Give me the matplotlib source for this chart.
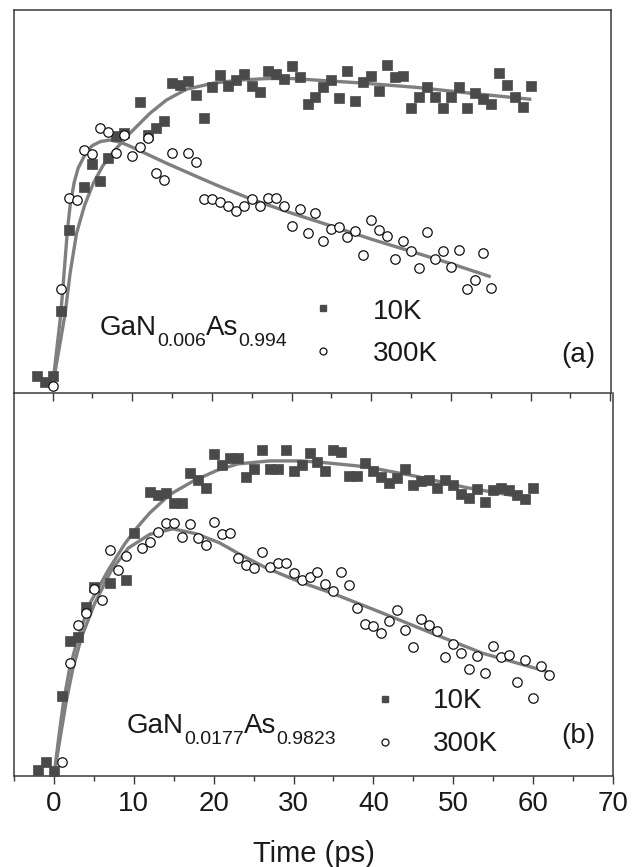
import matplotlib
matplotlib.use('Agg')
import matplotlib.pyplot as plt
from matplotlib.ticker import MultipleLocator
from matplotlib.transforms import offset_copy

plt.rcParams['font.family'] = ['Liberation Sans', 'DejaVu Sans']

# ---------------- data: panel (a) GaN0.006As0.994 ----------------
a10_t = [-2, -1, 0, 1, 2, 4, 5, 6, 7, 8, 9, 11, 12, 13, 14, 15, 16, 17, 18, 19,
         20, 21, 22, 23, 24, 25, 26, 27, 28, 29, 30, 31, 32, 33, 34, 35, 36, 37,
         38, 39, 40, 41, 42, 43, 44, 45, 46, 47, 48, 49, 50, 51, 52, 53, 54, 55,
         56, 57, 58, 59, 60]
a10_y = [0.033, 0.014, 0.033, 0.246, 0.51, 0.65, 0.725, 0.67, 0.744, 0.817, 0.828,
         0.927, 0.82, 0.842, 0.867, 0.989, 0.984, 0.998, 0.951, 0.875, 0.976,
         1.016, 0.981, 1.0, 1.02, 0.98, 0.962, 1.03, 1.02, 1.005, 1.046, 1.009,
         0.922, 0.945, 0.976, 1.0, 0.94, 1.03, 0.932, 0.994, 1.013, 0.965, 1.049,
         1.011, 1.013, 0.91, 0.945, 0.976, 0.943, 0.91, 0.943, 0.976, 0.91, 0.958,
         0.937, 0.922, 1.022, 0.984, 0.943, 0.913, 0.98]
a300_t = [0, 1, 2, 3, 4, 5, 6, 7, 8, 9, 10, 11, 12, 13, 14, 15, 17, 18, 19, 20,
          21, 22, 23, 24, 25, 26, 27, 28, 29, 30, 31, 32, 33, 34, 35, 36, 37, 38,
          39, 40, 41, 42, 43, 44, 45, 46, 47, 48, 49, 50, 51, 52, 53, 54, 55]
a300_y = [0.0, 0.316, 0.613, 0.608, 0.771, 0.758, 0.842, 0.831, 0.76, 0.82, 0.752,
          0.782, 0.809, 0.695, 0.673, 0.762, 0.76, 0.733, 0.61, 0.61, 0.602, 0.588,
          0.573, 0.588, 0.61, 0.588, 0.613, 0.616, 0.588, 0.523, 0.58, 0.501, 0.564,
          0.475, 0.512, 0.519, 0.486, 0.508, 0.428, 0.542, 0.51, 0.49, 0.414, 0.475,
          0.442, 0.385, 0.504, 0.414, 0.442, 0.39, 0.444, 0.316, 0.346, 0.434, 0.319]
# fit curves
a10_fit_t = [0, 0.8, 1.57, 2.2, 3.0, 4.0, 5.1, 6.3, 7.8, 9.7, 12.2, 14.3, 16.8,
             20.2, 23.5, 27, 30, 33, 39, 45.7, 52.8, 60.1]
a10_fit_y = [0.0, 0.12, 0.237, 0.37, 0.499, 0.59, 0.662, 0.72, 0.771, 0.826, 0.891,
             0.935, 0.97, 0.99, 1.0, 1.005, 1.005, 1.0, 0.99, 0.976, 0.956, 0.937]
a300_fit_t = [0, 0.5, 1.03, 1.5, 1.86, 2.2, 2.7, 3.2, 4.3, 5.0, 6.0, 7.2, 8.5, 9.7,
              12, 14.3, 18.5, 21, 25, 30, 35, 40, 45, 50, 55]
a300_fit_y = [0.0, 0.115, 0.237, 0.39, 0.51, 0.59, 0.665, 0.712, 0.768, 0.786,
              0.799, 0.804, 0.797, 0.784, 0.756, 0.728, 0.68, 0.652, 0.61, 0.565,
              0.523, 0.48, 0.44, 0.4, 0.357]

# ---------------- data: panel (b) GaN0.0177As0.9823 ----------------
b10_t = [-2, -1, 0, 1, 2, 3, 4, 5, 7, 9, 10, 12, 13, 14, 15, 16, 17, 18, 19, 20,
         21, 22, 23, 24, 25, 26, 27, 28, 29, 30, 31, 32, 33, 34, 35, 36, 37, 38,
         39, 40, 41, 42, 43, 44, 45, 46, 47, 48, 49, 50, 51, 52, 53, 54, 55, 56,
         57, 58, 59, 60]
b10_y = [0.02, 0.047, 0.017, 0.261, 0.442, 0.456, 0.553, 0.619, 0.63, 0.642, 0.795,
         0.929, 0.918, 0.926, 0.891, 0.891, 0.99, 0.967, 0.94, 1.051, 1.016, 1.041,
         1.041, 0.978, 1.002, 1.067, 1.002, 1.005, 1.065, 0.998, 1.016, 1.057,
         1.027, 0.998, 1.065, 1.06, 0.98, 0.98, 1.024, 0.998, 0.976, 0.959, 0.973,
         1.002, 0.951, 0.965, 0.969, 0.94, 0.967, 0.951, 0.922, 0.91, 0.937, 0.897,
         0.935, 0.94, 0.935, 0.918, 0.904, 0.94]
b300_t = [1, 2, 3, 4, 5, 6, 7, 8, 9, 11, 12, 13, 14, 15, 16, 17, 18, 19, 20, 21,
          22, 23, 24, 25, 26, 27, 28, 29, 30, 31, 32, 33, 34, 35, 36, 37, 38, 39,
          40, 41, 42, 43, 44, 45, 46, 47, 48, 49, 50, 51, 52, 53, 54, 55, 56, 57,
          58, 59, 60, 61, 62]
b300_y = [0.047, 0.37, 0.493, 0.532, 0.61, 0.575, 0.739, 0.673, 0.719, 0.744,
          0.766, 0.799, 0.828, 0.828, 0.782, 0.824, 0.777, 0.755, 0.831, 0.791,
          0.793, 0.712, 0.69, 0.679, 0.731, 0.684, 0.695, 0.695, 0.664, 0.641,
          0.651, 0.668, 0.629, 0.605, 0.668, 0.624, 0.548, 0.498, 0.49, 0.468,
          0.508, 0.542, 0.477, 0.423, 0.512, 0.493, 0.475, 0.39, 0.433, 0.401,
          0.349, 0.392, 0.336, 0.425, 0.388, 0.395, 0.308, 0.379, 0.256, 0.359, 0.33]
b10_fit_t = [0, 0.6, 1.17, 1.92, 3.04, 4.5, 6.8, 8.9, 10.5, 12, 14.5, 17.5, 20.5,
             23, 27, 31, 34, 39, 45.3, 51.6, 59.7]
b10_fit_y = [0.0, 0.125, 0.238, 0.346, 0.455, 0.564, 0.673, 0.76, 0.815, 0.86,
             0.92, 0.965, 1.0, 1.02, 1.03, 1.03, 1.024, 1.011, 0.98, 0.943, 0.907]
b300_fit_t = [0, 0.75, 1.5, 2.33, 3.46, 5.1, 7.2, 9.3, 12, 14.9, 17.8, 20.75,
              23.25, 26.6, 30.75, 34.9, 41.2, 47.4, 53.7, 61.8]
b300_fit_y = [0.0, 0.12, 0.238, 0.346, 0.455, 0.564, 0.673, 0.745, 0.79, 0.808,
              0.792, 0.762, 0.725, 0.68, 0.635, 0.597, 0.532, 0.466, 0.401, 0.341]

xticks = [0, 10, 20, 30, 40, 50, 60, 70]
series_labels = ['10K', '300K']
panel_labels = ['(a)', '(b)']
sample_a = [('GaN', False), ('0.006', True), ('As', False), ('0.994', True)]
sample_b = [('GaN', False), ('0.0177', True), ('As', False), ('0.9823', True)]

# ---------------- styling ----------------
SQ = '#4a4a4a'
LINE = '#7f7f7f'
SPINE = '#3a3a3a'
TXT = '#1a1a1a'

W, H = 639, 867
fig = plt.figure(figsize=(W / 100, H / 100), dpi=100)
axb = fig.add_axes([14 / W, 1 - 776 / H, 599 / W, 383 / H])
axa = fig.add_axes([14 / W, 1 - 393 / H, 597 / W, 383 / H])
axa.set_zorder(3)


def draw(ax, t10, y10, t300, y300, f10t, f10y, f300t, f300y):
    ax.plot(f10t, f10y, color=LINE, lw=2.4, zorder=2, solid_capstyle='butt')
    ax.plot(f300t, f300y, color=LINE, lw=2.4, zorder=2, solid_capstyle='butt')
    ax.plot(t10, y10, ls='none', marker='s', ms=6.6, mfc=SQ, mec=SQ, mew=0.5,
            zorder=3)
    ax.plot(t300, y300, ls='none', marker='o', ms=6.8, mfc='white', mec='#111111',
            mew=0.9, zorder=3)
    ax.set_yticks([])
    ax.xaxis.set_major_locator(MultipleLocator(10))
    ax.xaxis.set_minor_locator(MultipleLocator(5))
    ax.tick_params(axis='x', which='major', direction='out', length=5.5,
                   width=1.0, color=SPINE, labelsize=20, pad=5)
    ax.tick_params(axis='x', which='minor', direction='out', length=3.5,
                   width=1.0, color=SPINE)
    for s in ax.spines.values():
        s.set_color(SPINE)
        s.set_linewidth(1.1)


draw(axa, a10_t, a10_y, a300_t, a300_y, a10_fit_t, a10_fit_y, a300_fit_t, a300_fit_y)
draw(axb, b10_t, b10_y, b300_t, b300_y, b10_fit_t, b10_fit_y, b300_fit_t, b300_fit_y)

axa.set_xlim(-4.85, 70.1)
axa.set_ylim(-0.0229, 1.229)
axa.tick_params(axis='x', labelbottom=False)

axb.set_xlim(-5, 70)
axb.set_ylim(0, 1.252)
axb.spines['top'].set_visible(False)
axb.set_xticks(xticks)
axb.set_xticklabels([str(v) for v in xticks])
axb.set_xlabel('Time (ps)', fontsize=21, labelpad=17, color=TXT)
for lbl in axb.get_xticklabels():
    lbl.set_color(TXT)

renderer = fig.canvas.get_renderer()


def compound(ax, x, y, parts, drop):
    dx = 0.0
    for txt, sub in parts:
        size = 14 if sub else 20
        dy = -drop if sub else 0.0
        tr = offset_copy(ax.transAxes, fig=fig, x=dx, y=dy, units='points')
        t = ax.text(x, y, txt, transform=tr, fontsize=size, va='baseline',
                    ha='left', color=TXT)
        w = t.get_window_extent(renderer=renderer).width
        dx += w * 72.0 / fig.dpi


def legend_block(ax, mx, sq_y, ci_y, tx, t10_y, t300_y, plab, px, py):
    ax.plot([mx], [sq_y], transform=ax.transAxes, marker='s', ms=5.0,
            mfc=SQ, mec=SQ, ls='none', clip_on=False)
    ax.plot([mx], [ci_y], transform=ax.transAxes, marker='o', ms=5.0,
            mfc='white', mec='#111111', mew=0.9, ls='none', clip_on=False)
    ax.text(tx, t10_y, series_labels[0], transform=ax.transAxes, fontsize=20,
            va='baseline', ha='left', color=TXT)
    ax.text(tx, t300_y, series_labels[1], transform=ax.transAxes, fontsize=20,
            va='baseline', ha='left', color=TXT)
    ax.text(px, py, plab, transform=ax.transAxes, fontsize=20,
            va='baseline', ha='right', color=TXT)


compound(axa, 0.144, 0.151, sample_a, 8.0)
legend_block(axa, 0.5176, 0.222, 0.1097, 0.601, 0.193, 0.0836,
             panel_labels[0], 0.973, 0.081)
compound(axb, 0.1886, 0.112, sample_b, 7.5)
legend_block(axb, 0.619, 0.201, 0.0888, 0.70, 0.1775, 0.065,
             panel_labels[1], 0.970, 0.086)

fig.savefig('out.png', dpi=100)
